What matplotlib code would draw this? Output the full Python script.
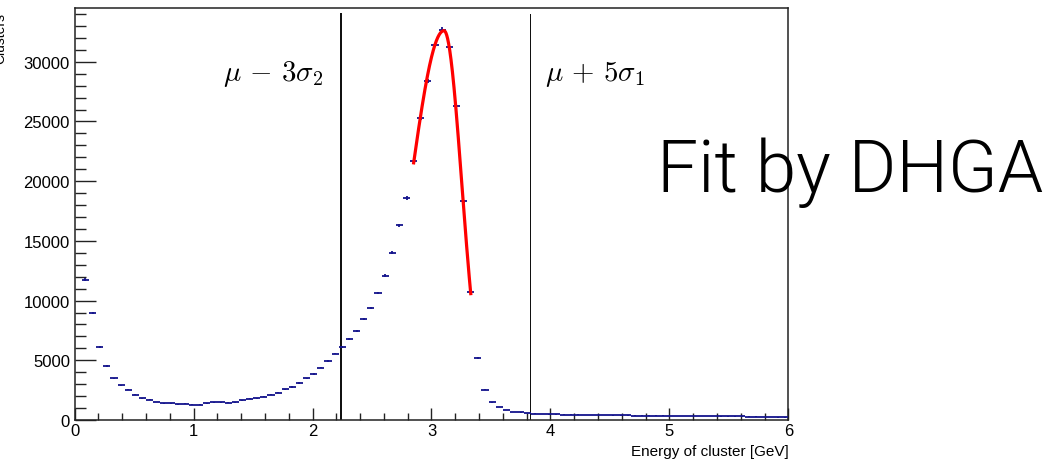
import numpy as np
import matplotlib
matplotlib.use("Agg")
import matplotlib.pyplot as plt
from matplotlib.ticker import MultipleLocator

# ---------------- data ----------------
bin_width = 0.06
first_center = 0.09
counts = [
    11760, 8970, 6090, 4530, 3490, 2900, 2540, 2120, 1840, 1680,
    1510, 1400, 1400, 1300, 1360, 1280, 1280, 1400, 1480, 1480,
    1450, 1480, 1650, 1760, 1840, 1960, 2120, 2290, 2570, 2760,
    3100, 3490, 3850, 4380, 4960, 5560, 6090, 6790, 7430, 8470,
    9400, 10650, 12100, 14000, 16290, 18580, 21710, 25290, 28360, 31380,
    32690, 31240, 26300, 18300, 10700, 5170, 2540, 1480, 1090, 840,
    670, 640, 590, 540, 510, 480, 470, 455, 450, 440,
    430, 425, 410, 400, 395, 380, 390, 375, 370, 365,
    360, 370, 350, 345, 340, 335, 330, 320, 325, 310,
    300, 305, 295, 285, 280, 275, 230, 220, 215,
]
centers = first_center + bin_width * np.arange(len(counts))

# fit (double half-Gaussian) parameters
fit_amp = 32600
fit_mu = 3.105
fit_sigma_left = 0.28
fit_sigma_right = 0.15
fit_range = (2.85, 3.33)

cut_lines = [2.242, 3.83]
cut_widths = [2.0, 1.0]
cut_labels = [r"$\mu\,-\,3\sigma_2$", r"$\mu\,+\,5\sigma_1$"]
cut_label_x = [1.246, 3.955]

x_label = "Energy of cluster [GeV]"
y_label = "Clusters"
big_text = "Fit by DHGA"

# ---------------- figure ----------------
W, H = 1058, 460
fig = plt.figure(figsize=(W / 100, H / 100), dpi=100)
ax_l, ax_r, ax_b, ax_t = 74.7, 788.3, 421, 9
ax = fig.add_axes([ax_l / W, (H - ax_b) / H, (ax_r - ax_l) / W, (ax_b - ax_t) / H])

plt.rcParams["mathtext.fontset"] = "cm"
tick_font = "Liberation Sans"

counts_arr = np.array(counts, dtype=float)
ax.errorbar(centers, counts_arr, xerr=bin_width / 2, yerr=np.sqrt(counts_arr),
            fmt="none", ecolor="#14148c", elinewidth=1.3, capsize=0, zorder=3)

xf = np.linspace(fit_range[0], fit_range[1], 400)
sig = np.where(xf < fit_mu, fit_sigma_left, fit_sigma_right)
yf = fit_amp * np.exp(-0.5 * ((xf - fit_mu) / sig) ** 2)
ax.plot(xf, yf, color="#ff0000", lw=2.3, zorder=4)

for xc, lw in zip(cut_lines, cut_widths):
    ax.plot([xc, xc], [0, 34000], color="#111111", lw=lw * 0.72, zorder=2)

for lab, lx in zip(cut_labels, cut_label_x):
    ax.text(lx, 28500, lab, fontsize=20.8, ha="left", va="baseline", color="black")

ax.set_xlim(0, 6)
ax.set_ylim(0, 34500)
ax.xaxis.set_major_locator(MultipleLocator(1))
ax.xaxis.set_minor_locator(MultipleLocator(0.2))
ax.yaxis.set_major_locator(MultipleLocator(5000))
ax.yaxis.set_minor_locator(MultipleLocator(1000))
ax.tick_params(axis="both", which="both", direction="in", top=False, right=False,
               width=1.0, color="#222222")
ax.tick_params(axis="y", which="major", length=15, pad=3.4)
ax.tick_params(axis="y", which="minor", length=7.9)
ax.tick_params(axis="x", which="major", length=8.6, pad=2.5)
ax.tick_params(axis="x", which="minor", length=4.7)
for lab in ax.get_xticklabels() + ax.get_yticklabels():
    lab.set_fontfamily(tick_font)
    lab.set_fontsize(12)
for sp in ax.spines.values():
    sp.set_linewidth(1.1)
    sp.set_color("#222222")

fig.text(ax_r / W, (H - 456) / H, x_label, ha="right", va="baseline",
         fontsize=11, family=tick_font)
fig.text(7 / W, (H - 13) / H, y_label, rotation=90, ha="right", va="top",
         fontsize=10, family=tick_font)
fig.text(657 / W, (H - 192) / H, big_text, ha="left", va="baseline",
         fontsize=52.5, family="Roboto", fontweight=300)

fig.savefig("out.png", dpi=100)
